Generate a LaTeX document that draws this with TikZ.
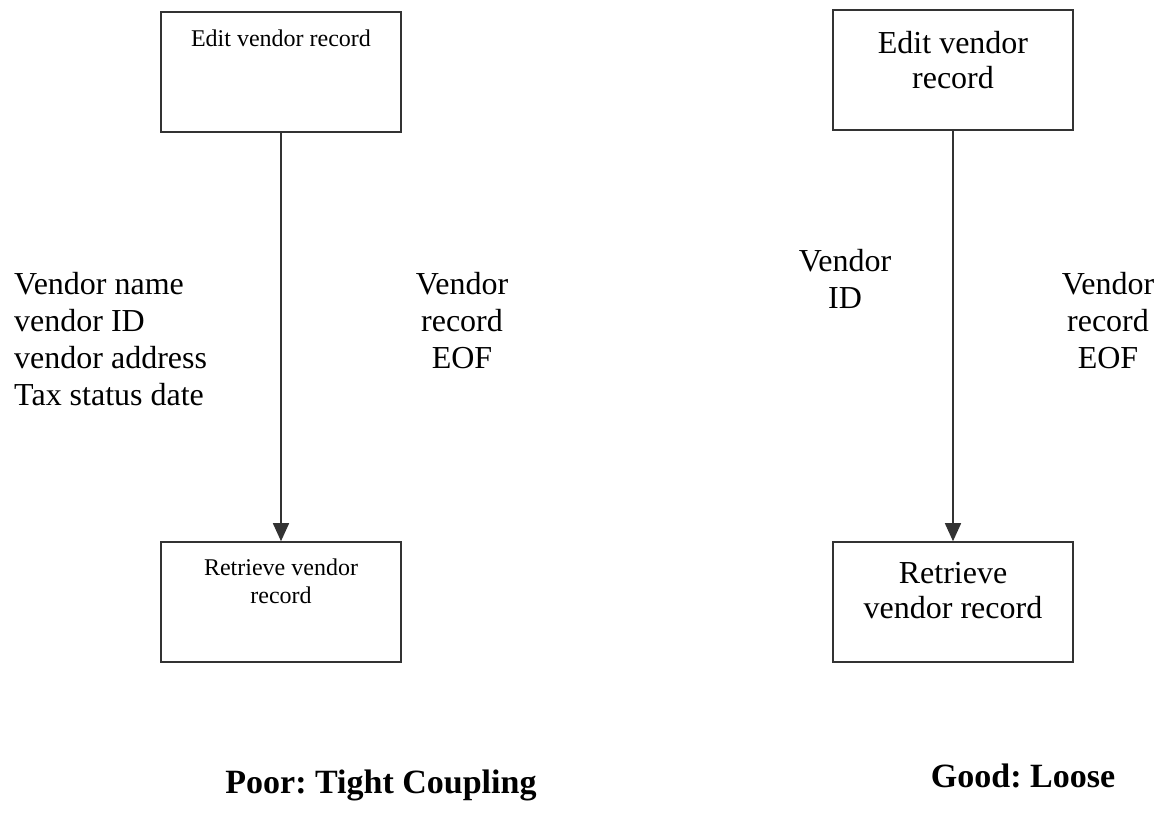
\documentclass[tikz,border=0pt]{standalone}
\usepackage{fontspec}
\setmainfont{Liberation Serif}
\frenchspacing
\usetikzlibrary{arrows.meta}

\tikzset{
  module/.style={rectangle, draw=black!80, line width=1.6pt, minimum width=240pt, minimum height=120pt, inner sep=0pt},
  smalltext/.style={font=\fontsize{24}{28}\selectfont, align=center, inner sep=0pt},
  bigtext/.style={font=\fontsize{32}{37}\selectfont, inner sep=0pt},
  caption/.style={font=\fontsize{34}{40}\selectfont\bfseries, inner sep=0pt},
  flow/.style={draw=black!80, line width=1.6pt, -{Triangle[length=18pt,width=16pt]}}
}

\begin{document}
\begin{tikzpicture}[x=1pt, y=-1pt]
  \useasboundingbox (0,0) rectangle (1173,812);

  % poor: tight coupling
  \node (EditA) [module] at (281, 72) {};
  \node (RetrA) [module] at (281, 602) {};
  \node (EditAtxt) [smalltext, anchor=base] at (281, 46) {Edit vendor record};
  \node (RetrAtxt) [smalltext, anchor=base] at (281, 603) {Retrieve vendor\\record};
  \node (DataA) [bigtext, align=left, anchor=base west] at (14, 405) {Vendor name\\vendor ID\\vendor address\\Tax status date};
  \node (FlagA) [bigtext, align=center, anchor=base] at (462, 368) {Vendor\\record\\EOF};
  \node (PoorLbl) [caption, anchor=base] at (381, 793) {Poor: Tight Coupling};

  \draw[flow] (EditA.south) -- (RetrA.north);

  % good: loose coupling
  \node (EditB) [module] at (953, 70) {};
  \node (RetrB) [module] at (953, 602) {};
  \node (EditBtxt) [bigtext, align=center, anchor=base, font=\fontsize{32}{35}\selectfont] at (953, 88) {Edit vendor\\record};
  \node (RetrBtxt) [bigtext, align=center, anchor=base, font=\fontsize{32}{35}\selectfont] at (953, 618) {Retrieve\\vendor record};
  \node (DataB) [bigtext, align=center, anchor=base] at (845, 308) {Vendor\\ID};
  \node (FlagB) [bigtext, align=center, anchor=base] at (1108, 368) {Vendor\\record\\EOF};
  \node (GoodLbl) [caption, anchor=base] at (1023, 787) {Good: Loose};

  \draw[flow] (EditB.south) -- (RetrB.north);
\end{tikzpicture}
\end{document}
